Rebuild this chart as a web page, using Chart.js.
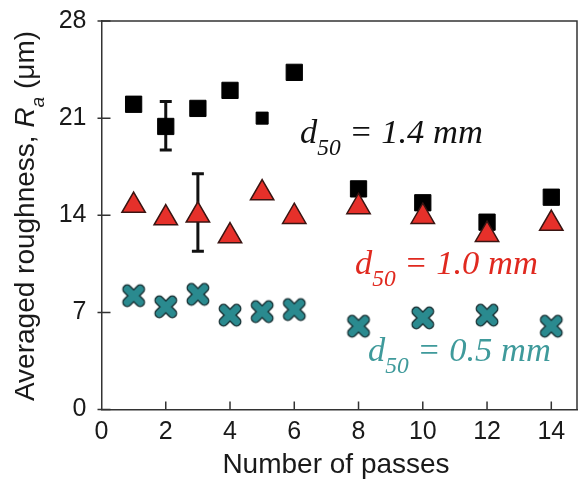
<!DOCTYPE html>
<html>
<head>
<meta charset="utf-8">
<script src="https://cdn.jsdelivr.net/npm/chart.js@4"></script>
<style>
  html, body { margin: 0; padding: 0; background: #fff; }
  #wrap { width: 579px; height: 482px; }
</style>
</head>
<body>
<div id="wrap"><canvas id="chart"></canvas></div>
<script>
// Data
const passes = [1, 2, 3, 4, 5, 6, 8, 10, 12, 14];
const ra14 = [22.0, 20.4, 21.7, 23.0, 21.0, 24.3, 15.9, 14.9, 13.5, 15.3];
const ra10 = [14.7, 13.8, 14.0, 12.5, 15.6, 13.9, 14.6, 13.9, 12.6, 13.4];
const ra05 = [8.2, 7.4, 8.3, 6.8, 7.05, 7.2, 6.0, 6.6, 6.8, 6.0];
const err14 = [{ x: 2, lo: 18.7, hi: 22.2 }];
const err10 = [{ x: 3, lo: 11.4, hi: 17.0 }];
const xTicks = [0, 2, 4, 6, 8, 10, 12, 14];
const yTicks = [0, 7, 14, 21, 28];

const SANS = '"Liberation Sans", Arial, sans-serif';
const SERIF = '"Liberation Serif", "Times New Roman", serif';

function toPoints(ys) {
    return passes.map((p, i) => ({ x: p, y: ys[i] }));
}

// Thick outlined X marker
function makeCross(size, fill, stroke) {
    const c = document.createElement('canvas');
    c.width = size; c.height = size;
    const g = c.getContext('2d');
    const m = size * 0.25;
    g.lineCap = 'round';
    g.beginPath();
    g.moveTo(m, m); g.lineTo(size - m, size - m);
    g.moveTo(size - m, m); g.lineTo(m, size - m);
    g.strokeStyle = stroke; g.lineWidth = size * 0.38;
    g.stroke();
    g.strokeStyle = fill; g.lineWidth = size * 0.27;
    g.stroke();
    return c;
}
const crossImg = makeCross(26, '#2a8a8f', '#1a3235');

// text with italic / subscript pieces
function drawParts(ctx, x, y, parts, size, family, color, align) {
    let w = 0;
    const fonts = parts.map(p => {
        const s = p.sub ? size * 0.68 : size;
        const f = (p.italic ? 'italic ' : '') + s + 'px ' + family;
        ctx.font = f;
        w += ctx.measureText(p.t).width;
        return f;
    });
    let cx = align === 'center' ? x - w / 2 : x;
    ctx.fillStyle = color;
    ctx.textBaseline = 'alphabetic';
    ctx.textAlign = 'left';
    parts.forEach((p, i) => {
        ctx.font = fonts[i];
        ctx.fillText(p.t, cx, p.sub ? y + size * 0.35 : y);
        cx += ctx.measureText(p.t).width;
    });
}

function noPad(s) {
    s.paddingTop = 0; s.paddingBottom = 0; s.paddingLeft = 0; s.paddingRight = 0;
}

const decorPlugin = {
    id: 'decor',
    beforeDatasetsDraw(chart) {
        const ctx = chart.ctx;
        const xs = chart.scales.x, ys = chart.scales.y;
        ctx.save();
        ctx.strokeStyle = '#111';
        ctx.lineWidth = 3;
        err14.concat(err10).forEach(e => {
            const px = xs.getPixelForValue(e.x);
            const y1 = ys.getPixelForValue(e.lo), y2 = ys.getPixelForValue(e.hi);
            ctx.beginPath();
            ctx.moveTo(px, y1); ctx.lineTo(px, y2);
            ctx.moveTo(px - 6, y1); ctx.lineTo(px + 6, y1);
            ctx.moveTo(px - 6, y2); ctx.lineTo(px + 6, y2);
            ctx.stroke();
        });
        ctx.restore();
    },
    afterDraw(chart) {
        const ctx = chart.ctx;
        const a = chart.chartArea;
        const xs = chart.scales.x, ys = chart.scales.y;
        ctx.save();
        // frame top and right
        ctx.strokeStyle = '#333';
        ctx.lineWidth = 1.5;
        ctx.beginPath();
        ctx.moveTo(a.left, a.top); ctx.lineTo(a.right, a.top); ctx.lineTo(a.right, a.bottom);
        ctx.stroke();
        // inward ticks
        ctx.beginPath();
        yTicks.forEach(v => {
            const py = ys.getPixelForValue(v);
            ctx.moveTo(a.left - 4, py); ctx.lineTo(a.left + 9, py);
        });
        xTicks.forEach(v => {
            if (v === 0) return;
            const px = xs.getPixelForValue(v);
            ctx.moveTo(px, a.bottom); ctx.lineTo(px, a.bottom - 8);
        });
        ctx.stroke();

        // axis titles
        drawParts(ctx, 336, 473, [{ t: 'Number of passes' }], 28, SANS, '#1a1a1a', 'center');
        ctx.translate(34, 216);
        ctx.rotate(-Math.PI / 2);
        drawParts(ctx, 0, 0, [
            { t: 'Averaged roughness, ' },
            { t: 'R', italic: true },
            { t: 'a', italic: true, sub: true },
            { t: ' (\u03bcm)' }
        ], 28, SANS, '#1a1a1a', 'center');
        ctx.restore();

        ctx.save();
        drawParts(ctx, 300, 143, [
            { t: 'd', italic: true }, { t: '50', italic: true, sub: true }, { t: ' = 1.4 mm', italic: true }
        ], 34.5, SERIF, '#111', 'left');
        drawParts(ctx, 355, 274, [
            { t: 'd', italic: true }, { t: '50', italic: true, sub: true }, { t: ' = 1.0 mm', italic: true }
        ], 34.5, SERIF, '#e0291f', 'left');
        drawParts(ctx, 368, 361, [
            { t: 'd', italic: true }, { t: '50', italic: true, sub: true }, { t: ' = 0.5 mm', italic: true }
        ], 34.5, SERIF, '#3f9a9b', 'left');
        ctx.restore();
    }
};

new Chart(document.getElementById('chart'), {
    type: 'scatter',
    data: {
        datasets: [
            {
                label: 'd50 = 1.4 mm',
                data: toPoints(ra14),
                pointStyle: 'rect',
                pointRadius: passes.map(p => p === 5 ? 8.5 : 11.5),
                backgroundColor: '#000',
                borderColor: '#000',
                borderWidth: 1,
                order: 3
            },
            {
                label: 'd50 = 1.0 mm',
                data: toPoints(ra10),
                pointStyle: 'triangle',
                pointRadius: 13.5,
                backgroundColor: '#e6302a',
                borderColor: '#3a1512',
                borderWidth: 1.5,
                order: 2
            },
            {
                label: 'd50 = 0.5 mm',
                data: toPoints(ra05),
                pointStyle: crossImg,
                pointRadius: 13,
                order: 1
            }
        ]
    },
    options: {
        responsive: true,
        maintainAspectRatio: false,
        animation: false,
        events: [],
        layout: { autoPadding: false, padding: { top: 21, right: 2, left: 0, bottom: 0 } },
        plugins: {
            legend: { display: false },
            tooltip: { enabled: false }
        },
        scales: {
            x: {
                type: 'linear',
                min: 0,
                max: 14.8,
                afterBuildTicks: s => { s.ticks = xTicks.map(v => ({ value: v })); },
                afterFit: s => { s.height = 72.5; noPad(s); },
                grid: { display: false, drawTicks: false },
                border: { display: true, color: '#333', width: 1.5 },
                ticks: {
                    color: '#1a1a1a',
                    padding: 8,
                    maxRotation: 0,
                    font: { family: SANS, size: 25 }
                }
            },
            y: {
                min: 0,
                max: 28,
                afterBuildTicks: s => { s.ticks = yTicks.map(v => ({ value: v })); },
                afterFit: s => { s.width = 101.5; noPad(s); },
                grid: { display: false, drawTicks: false },
                border: { display: true, color: '#333', width: 1.5 },
                ticks: {
                    color: '#1a1a1a',
                    padding: 15,
                    font: { family: SANS, size: 25 }
                }
            }
        }
    },
    plugins: [decorPlugin]
});
</script>
</body>
</html>
